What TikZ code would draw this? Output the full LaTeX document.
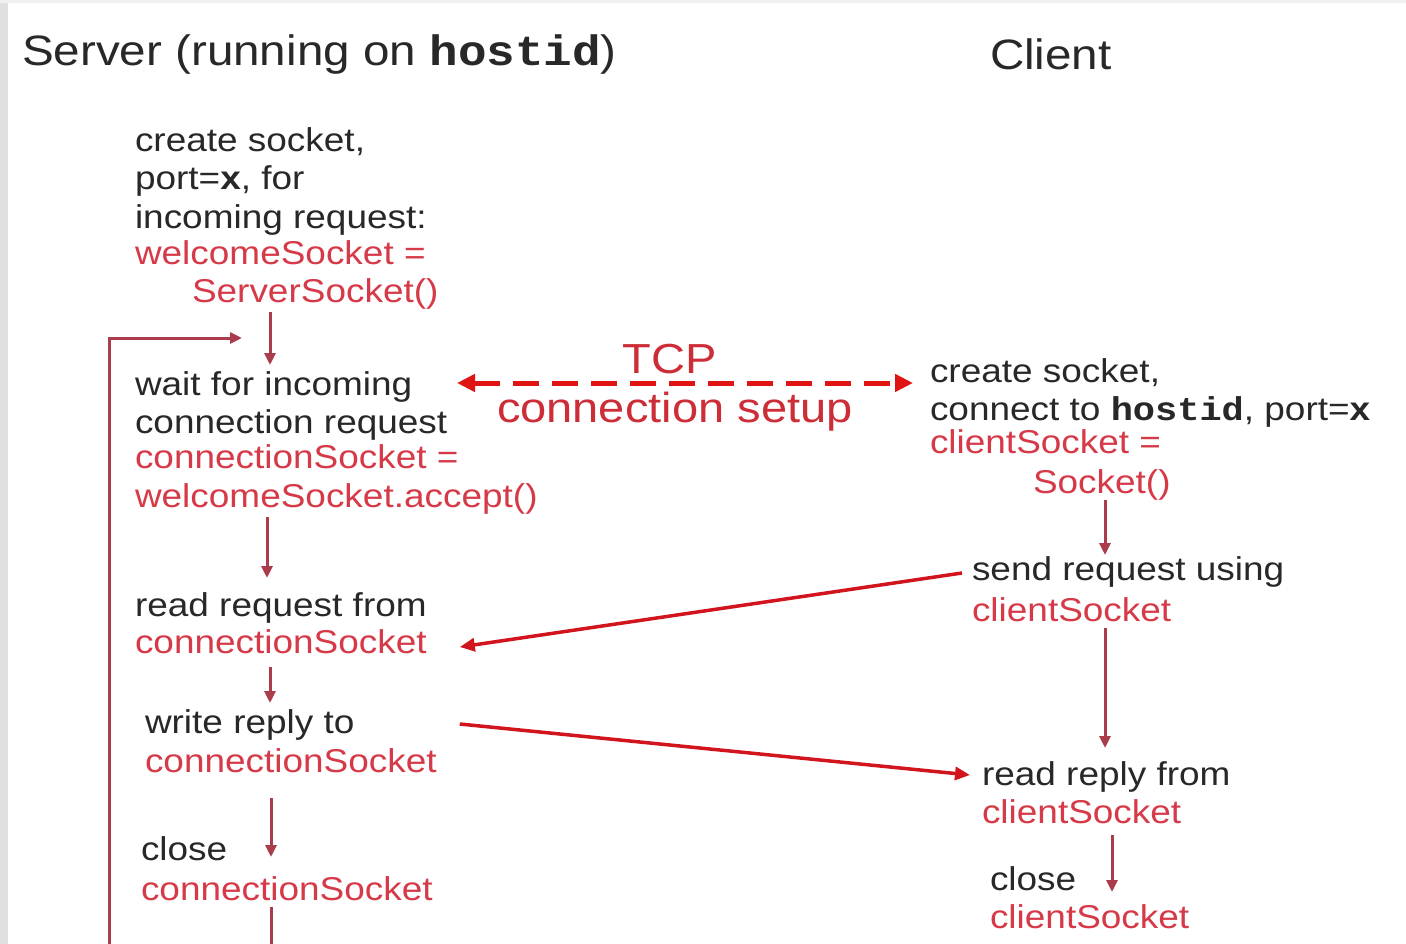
\documentclass[tikz,border=0pt]{standalone}
\usepackage{fontspec}
\setmainfont[FakeStretch=1.12]{Liberation Sans}
\newfontfamily\monof[FakeStretch=1.12]{Liberation Mono}
\usetikzlibrary{arrows.meta,calc}
\definecolor{txt}{RGB}{40,40,40}
\definecolor{redtxt}{RGB}{214,58,72}
\definecolor{tcpred}{RGB}{205,45,55}
\definecolor{flowred}{RGB}{170,60,75}
\definecolor{msgred}{RGB}{210,20,30}
\definecolor{dashred}{RGB}{225,20,20}
\newcommand{\hostidtxt}{{\monof\bfseries hostid}}
\begin{document}
\begin{tikzpicture}[x=1pt,y=-1pt,
  lbl/.style={anchor=base west, inner sep=0pt, outer sep=0pt, font=\fontsize{33}{38}\selectfont, text=txt, text height=25pt, text depth=7pt},
  rlbl/.style={lbl, text=redtxt},
  ttl/.style={anchor=base west, inner sep=0pt, outer sep=0pt, font=\fontsize{42.5}{48}\selectfont, text=txt},
  tcplbl/.style={inner sep=0pt, outer sep=0pt, font=\fontsize{42}{48}\selectfont, text=tcpred},
  flow/.style={draw=flowred, line width=3pt, -{Triangle[length=12pt,width=11pt]}},
  flowline/.style={draw=flowred, line width=3pt},
  msg/.style={draw=msgred, line width=3.5pt, -{Triangle[length=15pt,width=13pt]}},
  tcparr/.style={draw=dashred, line width=5pt, dash pattern=on 26pt off 13pt, {Triangle[length=18pt,width=17pt]}-{Triangle[length=18pt,width=17pt]}}
]
\useasboundingbox (0,0) rectangle (1406,944);
\fill[white] (0,0) rectangle (1406,944);
\fill[black!12] (0,0) rectangle (8,944);
\fill[black!6] (0,0) rectangle (1406,3);

% titles
\node[ttl] (srvtitle) at (22,66) {Server (running on \hostidtxt)};
\node[ttl] (clititle) at (990,70) {Client};

% server blocks
\node[lbl]  (a1) at (135,152) {create socket,};
\node[lbl]  (a2) at (135,190) {port=\textbf{x}, for};
\node[lbl]  (a3) at (135,229) {incoming request:};
\node[rlbl] (a4) at (135,265) {welcomeSocket =};
\node[rlbl] (a5) at (192,302) {ServerSocket()};

\node[lbl]  (b1) at (135,395) {wait for incoming};
\node[lbl]  (b2) at (135,433) {connection request};
\node[rlbl] (b3) at (135,468) {connectionSocket =};
\node[rlbl] (b4) at (135,507) {welcomeSocket.accept()};

\node[lbl]  (c1) at (135,616) {read request from};
\node[rlbl] (c2) at (135,653) {connectionSocket};

\node[lbl]  (d1) at (145,733) {write reply to};
\node[rlbl] (d2) at (145,772) {connectionSocket};

\node[lbl]  (e1) at (141,860) {close};
\node[rlbl] (e2) at (141,900) {connectionSocket};

% client blocks
\node[lbl]  (f1) at (930,382) {create socket,};
\node[lbl]  (f2) at (930,420) {connect to \hostidtxt, port=\textbf{x}};
\node[rlbl] (f3) at (930,453) {clientSocket =};
\node[rlbl] (f4) at (1033,493) {Socket()};

\node[lbl]  (g1) at (972,580) {send request using};
\node[rlbl] (g2) at (972,621) {clientSocket};

\node[lbl]  (h1) at (982,785) {read reply from};
\node[rlbl] (h2) at (982,823) {clientSocket};

\node[lbl]  (i1) at (990,890) {close};
\node[rlbl] (i2) at (990,928) {clientSocket};

% TCP label
\node[tcplbl, anchor=base] (tcp1) at (670,373) {TCP};
\node[tcplbl, anchor=base west] (tcp2) at (497,422) {connection setup};

% column coordinates
\coordinate (sx1) at (270,0);
\coordinate (sx2) at (267,0);
\coordinate (sx3) at (270,0);
\coordinate (sx4) at (271,0);
\coordinate (cx1) at (1105,0);
\coordinate (cx2) at (1112,0);
\coordinate (loopbot) at (109,944);
\coordinate (loopend) at (242,338);
\coordinate (srvbot) at (271,944);
\coordinate (tcpL) at (457,383);
\coordinate (tcpR) at (913,383);

% server flow
\draw[flow] ($(a5.south -| sx1)+(0,3)$) -- ($(b1.north -| sx1)+(0,-5)$);
\draw[flow] ($(b4.south -| sx2)+(0,3)$) -- ($(c1.north -| sx2)+(0,-13)$);
\draw[flow] ($(c2.south -| sx3)+(0,7)$) -- ($(d1.north -| sx3)+(0,-5)$);
\draw[flow] ($(d2.south -| sx4)+(0,19)$) -- ($(e1.base -| sx4)+(0,-3)$);
\draw[flowline] (e2.south -| sx4) -- (srvbot);
\draw[flow] (loopbot) |- (loopend);

% client flow
\draw[flow] (f4.south -| cx1) -- (g1.north -| cx1);
\draw[flow] (g2.south -| cx1) -- ($(h1.north -| cx1)+(0,-12)$);
\draw[flow] ($(h2.south -| cx2)+(0,5)$) -- ($(i1.base -| cx2)+(0,2)$);

% messages
\draw[tcparr] (tcpL) -- (tcpR);
\draw[msg] ($(g1.west)+(-10,2)$) -- ($(c2.east)+(33,3)$);
\draw[msg] ($(d1.east -| c2.east)+(33,0)$) -- ($(h1.west)+(-12,-1)$);
\end{tikzpicture}
\end{document}
